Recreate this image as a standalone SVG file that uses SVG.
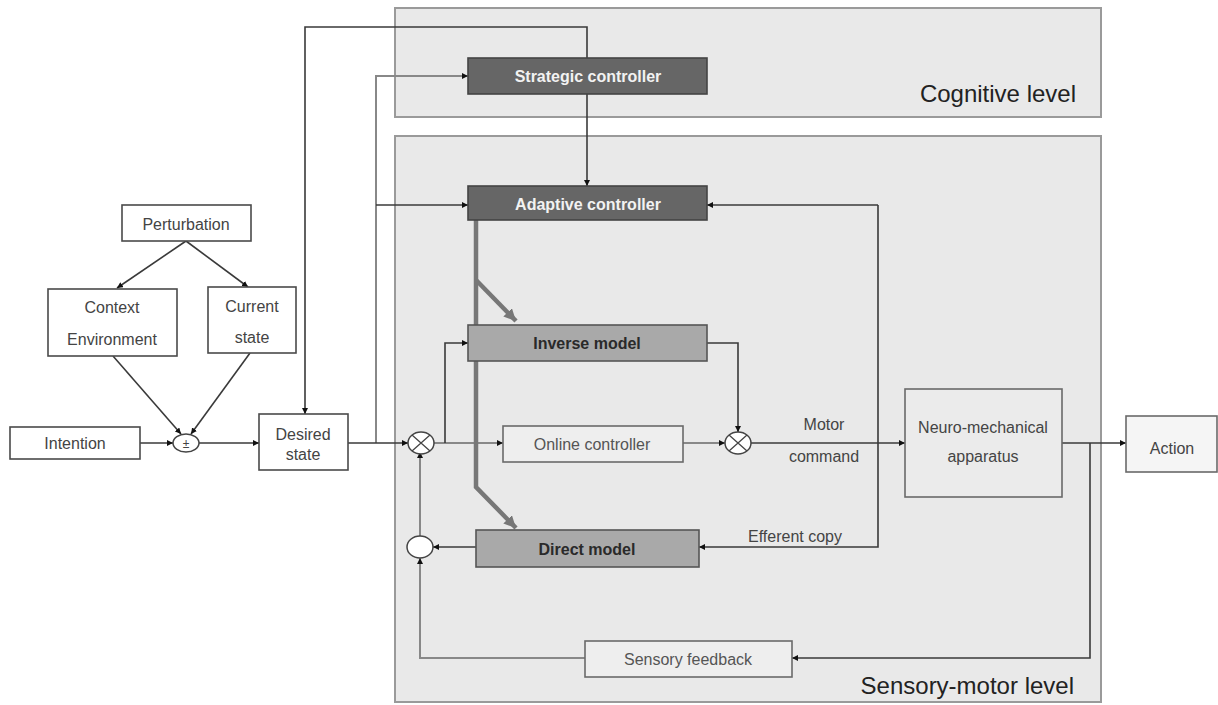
<svg xmlns="http://www.w3.org/2000/svg" width="1218" height="705" viewBox="0 0 1218 705">
<defs>
<style>
.panel{fill:#e9e9e9;stroke:#9a9a9a;stroke-width:2}
.box{fill:#ffffff;stroke:#4a4a4a;stroke-width:1.6}
.lbox{fill:#eeeeee;stroke:#6a6a6a;stroke-width:1.6}
.dark{fill:#666666;stroke:#444;stroke-width:1.6}
.mid{fill:#a9a9a9;stroke:#555;stroke-width:1.6}
.t{font-family:"Liberation Sans",Arial,sans-serif;font-size:16px;fill:#444;text-anchor:middle}
.tw{font-family:"Liberation Sans",Arial,sans-serif;font-size:16px;font-weight:bold;fill:#f2f2f2;text-anchor:middle}
.tb{font-family:"Liberation Sans",Arial,sans-serif;font-size:16px;font-weight:bold;fill:#2a2a2a;text-anchor:middle}
.big{font-family:"Liberation Sans",Arial,sans-serif;font-size:24px;fill:#222;text-anchor:end}
.c{fill:none;stroke:#3a3a3a;stroke-width:1.6}
.cg{fill:none;stroke:#888;stroke-width:2}
.thick{fill:none;stroke:#777;stroke-width:4.5}
.circ{fill:#fff;stroke:#444;stroke-width:1.5}
</style>
<marker id="a" viewBox="0 0 10 10" refX="10" refY="5" markerWidth="6" markerHeight="6" orient="auto" markerUnits="userSpaceOnUse"><path d="M0,0 L10,5 L0,10 z" fill="#111"/></marker>
<marker id="ag" viewBox="0 0 10 10" refX="10" refY="5" markerWidth="12" markerHeight="12" orient="auto" markerUnits="userSpaceOnUse"><path d="M0,0 L10,5 L0,10 z" fill="#777"/></marker>
</defs>
<rect width="1218" height="705" fill="#ffffff"/>
<g id="cognitive-level"><rect class="panel" x="395" y="8" width="706" height="109"/><text class="big" x="1076" y="102">Cognitive level</text></g>
<g id="sensory-motor-level"><rect class="panel" x="395" y="136" width="706" height="566"/><text class="big" x="1074" y="694">Sensory-motor level</text></g>
<g id="connectors">
<polyline class="c" points="587,58 587,27 305,27 305,414" marker-end="url(#a)"/>
<polyline class="cg" points="376,443 376,76 468,76" marker-end="url(#a)"/>
<polyline class="c" points="376,205 468,205" marker-end="url(#a)"/>
<polyline class="c" points="587,94 587,186" marker-end="url(#a)"/>
<polyline class="c" points="186,241 117,288" marker-end="url(#a)"/>
<polyline class="c" points="186,241 248,287" marker-end="url(#a)"/>
<polyline class="c" points="113,356 181,434" marker-end="url(#a)"/>
<polyline class="c" points="250,353 191,434" marker-end="url(#a)"/>
<polyline class="c" points="140,443 173,443" marker-end="url(#a)"/>
<polyline class="c" points="199,443 259,443" marker-end="url(#a)"/>
<polyline class="c" points="348,443 408,443" marker-end="url(#a)"/>
<polyline class="cg" points="434,443 503,443" marker-end="url(#a)"/>
<polyline class="c" points="445,443 445,343 468,343" marker-end="url(#a)"/>
<polyline class="c" points="707,343 738,343 738,432" marker-end="url(#a)"/>
<polyline class="cg" points="683,443 725,443" marker-end="url(#a)"/>
<polyline class="c" points="751,443 905,443" marker-end="url(#a)"/>
<polyline class="c" points="1062,443 1126,443" marker-end="url(#a)"/>
<polyline class="c" points="1090,443 1090,658 792,658" marker-end="url(#a)"/>
<polyline class="c" points="878,205 707,205" marker-end="url(#a)"/>
<polyline class="c" points="878,205 878,547 699,547" marker-end="url(#a)"/>
<polyline class="c" points="476,547 433,547" marker-end="url(#a)"/>
<polyline class="cg" points="585,658 420,658 420,558" marker-end="url(#a)"/>
<polyline class="cg" points="420,536 420,452" marker-end="url(#a)"/>
<polyline class="thick" points="476,220 476,487 516,528" marker-end="url(#ag)"/>
<polyline class="thick" points="476,280 516,321" marker-end="url(#ag)"/>
<text class="t" x="824" y="430">Motor</text>
<text class="t" x="824" y="462">command</text>
<text class="t" x="795" y="542">Efferent copy</text>
</g>
<g id="perturbation"><rect class="box" x="122" y="205" width="129" height="36"/><text class="t" x="186" y="230">Perturbation</text></g>
<g id="context-environment"><rect class="box" x="48" y="289" width="129" height="67"/><text class="t" x="112" y="313">Context</text><text class="t" x="112" y="345">Environment</text></g>
<g id="current-state"><rect class="box" x="208" y="287" width="88" height="66"/><text class="t" x="252" y="312">Current</text><text class="t" x="252" y="343">state</text></g>
<g id="intention"><rect class="box" x="10" y="427" width="130" height="32"/><text class="t" x="75" y="449">Intention</text></g>
<g id="sum-input"><ellipse class="circ" cx="186" cy="443" rx="13" ry="9"/><text class="t" x="186" y="448" style="font-size:12px">±</text></g>
<g id="desired-state"><rect class="box" x="259" y="414" width="89" height="56"/><text class="t" x="303" y="440">Desired</text><text class="t" x="303" y="460">state</text></g>
<g id="strategic-controller"><rect class="dark" x="468" y="58" width="239" height="36"/><text class="tw" x="588" y="82">Strategic controller</text></g>
<g id="adaptive-controller"><rect class="dark" x="468" y="186" width="239" height="34"/><text class="tw" x="588" y="210">Adaptive controller</text></g>
<g id="inverse-model"><rect class="mid" x="468" y="325" width="239" height="36"/><text class="tb" x="587" y="349">Inverse model</text></g>
<g id="online-controller"><rect class="lbox" x="503" y="426" width="180" height="36"/><text class="t" x="592" y="450" style="fill:#555">Online controller</text></g>
<g id="sum-1"><ellipse class="circ" cx="421" cy="443" rx="13" ry="11"/><path d="M412,435 L430,451 M430,435 L412,451" stroke="#444" stroke-width="1.3"/></g>
<g id="sum-2"><ellipse class="circ" cx="738" cy="443" rx="13" ry="11"/><path d="M729,435 L747,451 M747,435 L729,451" stroke="#444" stroke-width="1.3"/></g>
<g id="direct-model"><rect class="mid" x="476" y="530" width="223" height="37"/><text class="tb" x="587" y="555">Direct model</text></g>
<g id="sum-lower"><ellipse class="circ" cx="420" cy="547" rx="13" ry="11"/></g>
<g id="neuro-mechanical"><rect class="lbox" x="905" y="389" width="157" height="108" style="fill:#ebebeb"/><text class="t" x="983" y="433">Neuro-mechanical</text><text class="t" x="983" y="462">apparatus</text></g>
<g id="action"><rect class="lbox" x="1126" y="416" width="91" height="56" style="fill:#f5f5f5"/><text class="t" x="1172" y="454">Action</text></g>
<g id="sensory-feedback"><rect class="lbox" x="585" y="641" width="207" height="36" style="fill:#eeeeee"/><text class="t" x="688" y="665" style="fill:#555">Sensory feedback</text></g>
</svg>
